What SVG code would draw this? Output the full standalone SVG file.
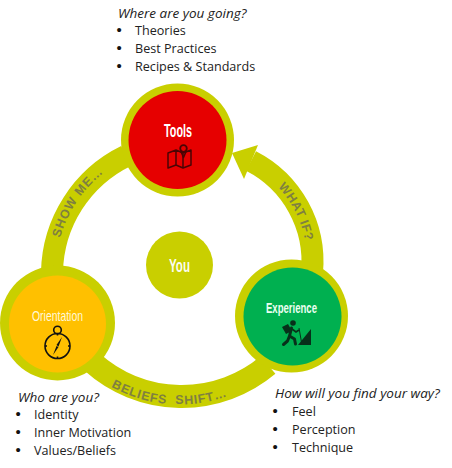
<svg xmlns="http://www.w3.org/2000/svg" width="452" height="468" viewBox="0 0 452 468">
<style>
.band{fill:none;stroke:#c9cf00;stroke-width:22}
.ring{fill:#c9cf00}
.t{font-family:"Open Sans","Liberation Sans",sans-serif;font-size:12.6px;fill:#222}
.b{font-family:"Liberation Sans",Arial,sans-serif;font-size:15px;fill:#111}
.h{font-style:italic;font-size:13.5px}
.lab{font-family:"Liberation Sans",Arial,sans-serif;font-weight:bold;font-size:12.5px;fill:#7f8040;letter-spacing:.8px;white-space:pre}
.title{font-family:"Liberation Sans",sans-serif;font-weight:bold;fill:#fff}
.ic{fill:none;stroke:#111;stroke-width:1.6}
.map{fill:none;stroke:#4a0404;stroke-width:1.5;stroke-linejoin:round}
.hk{fill:none;stroke:#07301a;stroke-width:3;stroke-linecap:round;stroke-linejoin:round}
</style>
<defs>
<path id="pShow" d="M60 238A127 127 0 0 1 118 163"/>
<path id="pWhat" d="M278 187A108 108 0 0 1 306.600 252.600"/>
<path id="pBel" d="M106 383.700A142 142 0 0 0 252 384.700"/>
</defs>
<rect width="452" height="468" fill="#fff"/>
<g id="connectors">
<path class="band" d="M52 272A132 132 0 0 1 126 156"/>
<path class="band" style="stroke-width:23" d="M92 362A134 134 0 0 0 268 365"/>
<path class="band" d="M312 272A113 113 0 0 0 251 161"/>
<polygon class="ring" points="232,153 258,145 244,179"/>
<text class="lab"><textPath href="#pShow">SHOW ME…</textPath></text>
<text class="lab" style="letter-spacing:.3px"><textPath href="#pWhat">WHAT IF?</textPath></text>
<text class="lab"><textPath href="#pBel" startOffset="6">BELIEFS  SHIFT…</textPath></text>
</g>
<g id="node-tools">
<circle class="ring" cx="177.500" cy="140" r="56.500"/>
<circle cx="177.500" cy="140" r="49" fill="#e60000"/>
<text class="title" x="178" y="137" text-anchor="middle" font-size="19" textLength="28" lengthAdjust="spacingAndGlyphs">Tools</text>
<path class="map" d="M168 153l8-3 7 3 8-3v15l-8 3-7-3-8 3ZM176 150v15M183 153v15"/>
<circle cx="183.500" cy="148.500" r="3.300" fill="#e60000" stroke="#4a0404" stroke-width="1.800"/>
<path class="map" d="M180.500 150.500l3 7 3-7"/>
</g>
<g id="node-you">
<circle class="ring" cx="179.500" cy="265" r="33.500"/>
<text class="title" x="179.500" y="272" text-anchor="middle" font-size="19" textLength="21" lengthAdjust="spacingAndGlyphs" fill-opacity=".95">You</text>
</g>
<g id="node-orientation">
<circle class="ring" cx="57.500" cy="323" r="57.500"/>
<circle cx="57.500" cy="324" r="48.500" fill="#ffc000"/>
<text class="title" x="57.500" y="321" text-anchor="middle" font-size="15" textLength="51" lengthAdjust="spacingAndGlyphs" style="font-weight:normal;fill:#fff8d8">Orientation</text>
<circle class="ic" cx="57.500" cy="346" r="12.500"/>
<circle class="ic" cx="57.500" cy="330" r="3.800"/>
<path d="M62 337l-5.500 8 2 1.500ZM53 355l3.500-9 2 1Z" fill="#111"/>
<path class="ic" d="M57.500 334v1.500M57.500 356.500v2M45 346h2M68 346h2"/>
</g>
<g id="node-experience">
<circle class="ring" cx="291.500" cy="316" r="56.500"/>
<circle cx="292.500" cy="316.500" r="49" fill="#00b050"/>
<text class="title" x="291.500" y="313" text-anchor="middle" font-size="15" textLength="51" lengthAdjust="spacingAndGlyphs" style="fill:#eafff0">Experience</text>
<circle cx="293" cy="323" r="2.800" fill="#07301a"/>
<path d="M282 327l6-3 4 7-6 3Z" fill="#07301a"/>
<path class="hk" d="M291.500 328l-2 8 5 3 1 5M289.500 336l-2 5-4 3.500"/>
<path d="M292 329l4 3 3-2" fill="none" stroke="#07301a" stroke-width="1.800"/>
<path d="M299 328l3 17" stroke="#07301a" stroke-width="1"/>
<path d="M298 345l13-16v16Z" fill="#07301a"/>
</g>
<g id="text-tools">
<text class="t h" x="118" y="18">Where are you going?</text>
<text class="b" x="116.500" y="35">•</text><text class="t" x="135" y="35">Theories</text>
<text class="b" x="116.500" y="53">•</text><text class="t" x="135" y="53">Best Practices</text>
<text class="b" x="116.500" y="71">•</text><text class="t" x="135" y="71">Recipes &amp; Standards</text>
</g>
<g id="text-orientation">
<text class="t h" x="18" y="402">Who are you?</text>
<text class="b" x="15.500" y="419">•</text><text class="t" x="34" y="419">Identity</text>
<text class="b" x="15.500" y="437">•</text><text class="t" x="34" y="437">Inner Motivation</text>
<text class="b" x="15.500" y="455">•</text><text class="t" x="34" y="455">Values/Beliefs</text>
</g>
<g id="text-experience">
<text class="t h" x="275" y="398">How will you find your way?</text>
<text class="b" x="272.500" y="416">•</text><text class="t" x="292" y="416">Feel</text>
<text class="b" x="272.500" y="434">•</text><text class="t" x="292" y="434">Perception</text>
<text class="b" x="272.500" y="452">•</text><text class="t" x="292" y="452">Technique</text>
</g>
</svg>
